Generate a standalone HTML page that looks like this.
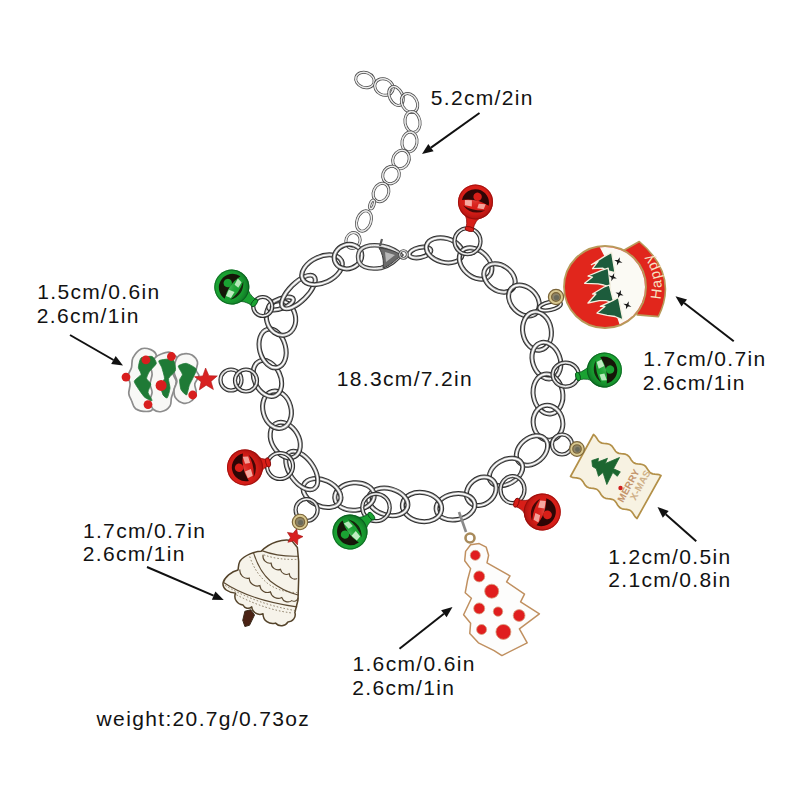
<!DOCTYPE html>
<html><head><meta charset="utf-8"><style>
html,body{margin:0;padding:0;background:#fff;width:800px;height:800px;overflow:hidden}
svg{display:block}
</style></head><body>
<svg width="800" height="800" viewBox="0 0 800 800">
<rect width="800" height="800" fill="#fff"/>
<g transform="translate(365,80) rotate(20)"><ellipse rx="9.5" ry="7.5" fill="none" stroke="#4a4a4a" stroke-width="3.0"/><ellipse rx="9.5" ry="7.5" fill="none" stroke="#c4c4c4" stroke-width="1.6"/><ellipse rx="9.5" ry="7.5" fill="none" stroke="#ffffff" stroke-width="0.7"/></g>
<g transform="translate(384,87) rotate(25)"><ellipse rx="9.5" ry="8" fill="none" stroke="#4a4a4a" stroke-width="3.0"/><ellipse rx="9.5" ry="8" fill="none" stroke="#c4c4c4" stroke-width="1.6"/><ellipse rx="9.5" ry="8" fill="none" stroke="#ffffff" stroke-width="0.7"/></g>
<g transform="translate(396,96) rotate(65)"><ellipse rx="10" ry="6.5" fill="none" stroke="#4a4a4a" stroke-width="3.0"/><ellipse rx="10" ry="6.5" fill="none" stroke="#c4c4c4" stroke-width="1.6"/><ellipse rx="10" ry="6.5" fill="none" stroke="#ffffff" stroke-width="0.7"/></g>
<g transform="translate(409.5,103) rotate(60)"><ellipse rx="10" ry="7.5" fill="none" stroke="#4a4a4a" stroke-width="3.0"/><ellipse rx="10" ry="7.5" fill="none" stroke="#c4c4c4" stroke-width="1.6"/><ellipse rx="10" ry="7.5" fill="none" stroke="#ffffff" stroke-width="0.7"/></g>
<g transform="translate(412.5,122) rotate(80)"><ellipse rx="10.5" ry="7.5" fill="none" stroke="#4a4a4a" stroke-width="3.0"/><ellipse rx="10.5" ry="7.5" fill="none" stroke="#c4c4c4" stroke-width="1.6"/><ellipse rx="10.5" ry="7.5" fill="none" stroke="#ffffff" stroke-width="0.7"/></g>
<g transform="translate(409.5,142) rotate(100)"><ellipse rx="10" ry="7.5" fill="none" stroke="#4a4a4a" stroke-width="3.0"/><ellipse rx="10" ry="7.5" fill="none" stroke="#c4c4c4" stroke-width="1.6"/><ellipse rx="10" ry="7.5" fill="none" stroke="#ffffff" stroke-width="0.7"/></g>
<g transform="translate(401,159.5) rotate(115)"><ellipse rx="9.5" ry="8" fill="none" stroke="#4a4a4a" stroke-width="3.0"/><ellipse rx="9.5" ry="8" fill="none" stroke="#c4c4c4" stroke-width="1.6"/><ellipse rx="9.5" ry="8" fill="none" stroke="#ffffff" stroke-width="0.7"/></g>
<g transform="translate(391,175) rotate(125)"><ellipse rx="9" ry="8" fill="none" stroke="#4a4a4a" stroke-width="3.0"/><ellipse rx="9" ry="8" fill="none" stroke="#c4c4c4" stroke-width="1.6"/><ellipse rx="9" ry="8" fill="none" stroke="#ffffff" stroke-width="0.7"/></g>
<g transform="translate(381,192.5) rotate(115)"><ellipse rx="9.5" ry="7.5" fill="none" stroke="#4a4a4a" stroke-width="3.0"/><ellipse rx="9.5" ry="7.5" fill="none" stroke="#c4c4c4" stroke-width="1.6"/><ellipse rx="9.5" ry="7.5" fill="none" stroke="#ffffff" stroke-width="0.7"/></g>
<g transform="translate(372,204.5) rotate(110)"><ellipse rx="4.5" ry="2" fill="none" stroke="#4a4a4a" stroke-width="3.0"/><ellipse rx="4.5" ry="2" fill="none" stroke="#c4c4c4" stroke-width="1.6"/><ellipse rx="4.5" ry="2" fill="none" stroke="#ffffff" stroke-width="0.7"/></g>
<g transform="translate(364,221) rotate(110)"><ellipse rx="10.5" ry="7" fill="none" stroke="#4a4a4a" stroke-width="3.0"/><ellipse rx="10.5" ry="7" fill="none" stroke="#c4c4c4" stroke-width="1.6"/><ellipse rx="10.5" ry="7" fill="none" stroke="#ffffff" stroke-width="0.7"/></g>
<g transform="translate(353,240.5) rotate(110)"><ellipse rx="8" ry="7" fill="none" stroke="#4a4a4a" stroke-width="3.0"/><ellipse rx="8" ry="7" fill="none" stroke="#c4c4c4" stroke-width="1.6"/><ellipse rx="8" ry="7" fill="none" stroke="#ffffff" stroke-width="0.7"/></g>
<g transform="translate(420,252.5) rotate(-12)"><ellipse rx="11" ry="5" fill="none" stroke="#2c2c2c" stroke-width="5.0"/><ellipse rx="11" ry="5" fill="none" stroke="#a4a4a4" stroke-width="3.0"/><ellipse rx="11" ry="5" fill="none" stroke="#ffffff" stroke-width="1.4"/></g>
<g transform="translate(444.4,250.3) rotate(15)"><ellipse rx="18.5" ry="12" fill="none" stroke="#2c2c2c" stroke-width="5.0"/><ellipse rx="18.5" ry="12" fill="none" stroke="#a4a4a4" stroke-width="3.0"/><ellipse rx="18.5" ry="12" fill="none" stroke="#ffffff" stroke-width="1.4"/></g>
<g transform="translate(475.6,263.5) rotate(42)"><ellipse rx="18.5" ry="13" fill="none" stroke="#2c2c2c" stroke-width="5.0"/><ellipse rx="18.5" ry="13" fill="none" stroke="#a4a4a4" stroke-width="3.0"/><ellipse rx="18.5" ry="13" fill="none" stroke="#ffffff" stroke-width="1.4"/></g>
<g transform="translate(499.5,278) rotate(35)"><ellipse rx="17" ry="12.5" fill="none" stroke="#2c2c2c" stroke-width="5.0"/><ellipse rx="17" ry="12.5" fill="none" stroke="#a4a4a4" stroke-width="3.0"/><ellipse rx="17" ry="12.5" fill="none" stroke="#ffffff" stroke-width="1.4"/></g>
<g transform="translate(524,300.5) rotate(45)"><ellipse rx="17.5" ry="13" fill="none" stroke="#2c2c2c" stroke-width="5.0"/><ellipse rx="17.5" ry="13" fill="none" stroke="#a4a4a4" stroke-width="3.0"/><ellipse rx="17.5" ry="13" fill="none" stroke="#ffffff" stroke-width="1.4"/></g>
<g transform="translate(537,331) rotate(80)"><ellipse rx="19.25" ry="14.25" fill="none" stroke="#2c2c2c" stroke-width="5.0"/><ellipse rx="19.25" ry="14.25" fill="none" stroke="#a4a4a4" stroke-width="3.0"/><ellipse rx="19.25" ry="14.25" fill="none" stroke="#ffffff" stroke-width="1.4"/></g>
<g transform="translate(546.4,360.6) rotate(70)"><ellipse rx="18.75" ry="13.75" fill="none" stroke="#2c2c2c" stroke-width="5.0"/><ellipse rx="18.75" ry="13.75" fill="none" stroke="#a4a4a4" stroke-width="3.0"/><ellipse rx="18.75" ry="13.75" fill="none" stroke="#ffffff" stroke-width="1.4"/></g>
<g transform="translate(548,394) rotate(80)"><ellipse rx="20" ry="14.75" fill="none" stroke="#2c2c2c" stroke-width="5.0"/><ellipse rx="20" ry="14.75" fill="none" stroke="#a4a4a4" stroke-width="3.0"/><ellipse rx="20" ry="14.75" fill="none" stroke="#ffffff" stroke-width="1.4"/></g>
<g transform="translate(548,422.75) rotate(80)"><ellipse rx="17.5" ry="14.75" fill="none" stroke="#2c2c2c" stroke-width="5.0"/><ellipse rx="17.5" ry="14.75" fill="none" stroke="#a4a4a4" stroke-width="3.0"/><ellipse rx="17.5" ry="14.75" fill="none" stroke="#ffffff" stroke-width="1.4"/></g>
<g transform="translate(532,450.5) rotate(-40)"><ellipse rx="17.5" ry="12.5" fill="none" stroke="#2c2c2c" stroke-width="5.0"/><ellipse rx="17.5" ry="12.5" fill="none" stroke="#a4a4a4" stroke-width="3.0"/><ellipse rx="17.5" ry="12.5" fill="none" stroke="#ffffff" stroke-width="1.4"/></g>
<g transform="translate(506,472) rotate(-30)"><ellipse rx="18" ry="12" fill="none" stroke="#2c2c2c" stroke-width="5.0"/><ellipse rx="18" ry="12" fill="none" stroke="#a4a4a4" stroke-width="3.0"/><ellipse rx="18" ry="12" fill="none" stroke="#ffffff" stroke-width="1.4"/></g>
<g transform="translate(481.25,491.25) rotate(-40)"><ellipse rx="16" ry="13" fill="none" stroke="#2c2c2c" stroke-width="5.0"/><ellipse rx="16" ry="13" fill="none" stroke="#a4a4a4" stroke-width="3.0"/><ellipse rx="16" ry="13" fill="none" stroke="#ffffff" stroke-width="1.4"/></g>
<g transform="translate(455.5,506.75) rotate(-10)"><ellipse rx="19.5" ry="13" fill="none" stroke="#2c2c2c" stroke-width="5.0"/><ellipse rx="19.5" ry="13" fill="none" stroke="#a4a4a4" stroke-width="3.0"/><ellipse rx="19.5" ry="13" fill="none" stroke="#ffffff" stroke-width="1.4"/></g>
<g transform="translate(422,507) rotate(10)"><ellipse rx="19.75" ry="14.5" fill="none" stroke="#2c2c2c" stroke-width="5.0"/><ellipse rx="19.75" ry="14.5" fill="none" stroke="#a4a4a4" stroke-width="3.0"/><ellipse rx="19.75" ry="14.5" fill="none" stroke="#ffffff" stroke-width="1.4"/></g>
<g transform="translate(388.25,501.85) rotate(15)"><ellipse rx="20" ry="13.25" fill="none" stroke="#2c2c2c" stroke-width="5.0"/><ellipse rx="20" ry="13.25" fill="none" stroke="#a4a4a4" stroke-width="3.0"/><ellipse rx="20" ry="13.25" fill="none" stroke="#ffffff" stroke-width="1.4"/></g>
<g transform="translate(354.5,496.5) rotate(-5)"><ellipse rx="19.75" ry="13.75" fill="none" stroke="#2c2c2c" stroke-width="5.0"/><ellipse rx="19.75" ry="13.75" fill="none" stroke="#a4a4a4" stroke-width="3.0"/><ellipse rx="19.75" ry="13.75" fill="none" stroke="#ffffff" stroke-width="1.4"/></g>
<g transform="translate(322,493) rotate(25)"><ellipse rx="20" ry="13" fill="none" stroke="#2c2c2c" stroke-width="5.0"/><ellipse rx="20" ry="13" fill="none" stroke="#a4a4a4" stroke-width="3.0"/><ellipse rx="20" ry="13" fill="none" stroke="#ffffff" stroke-width="1.4"/></g>
<g transform="translate(301.75,470.5) rotate(55)"><ellipse rx="22" ry="12" fill="none" stroke="#2c2c2c" stroke-width="5.0"/><ellipse rx="22" ry="12" fill="none" stroke="#a4a4a4" stroke-width="3.0"/><ellipse rx="22" ry="12" fill="none" stroke="#ffffff" stroke-width="1.4"/></g>
<g transform="translate(285.25,440.1) rotate(60)"><ellipse rx="19" ry="13.5" fill="none" stroke="#2c2c2c" stroke-width="5.0"/><ellipse rx="19" ry="13.5" fill="none" stroke="#a4a4a4" stroke-width="3.0"/><ellipse rx="19" ry="13.5" fill="none" stroke="#ffffff" stroke-width="1.4"/></g>
<g transform="translate(277,409.7) rotate(75)"><ellipse rx="19" ry="14" fill="none" stroke="#2c2c2c" stroke-width="5.0"/><ellipse rx="19" ry="14" fill="none" stroke="#a4a4a4" stroke-width="3.0"/><ellipse rx="19" ry="14" fill="none" stroke="#ffffff" stroke-width="1.4"/></g>
<g transform="translate(267.4,378.4) rotate(65)"><ellipse rx="19" ry="13" fill="none" stroke="#2c2c2c" stroke-width="5.0"/><ellipse rx="19" ry="13" fill="none" stroke="#a4a4a4" stroke-width="3.0"/><ellipse rx="19" ry="13" fill="none" stroke="#ffffff" stroke-width="1.4"/></g>
<g transform="translate(272.6,348.4) rotate(75)"><ellipse rx="19.75" ry="13" fill="none" stroke="#2c2c2c" stroke-width="5.0"/><ellipse rx="19.75" ry="13" fill="none" stroke="#a4a4a4" stroke-width="3.0"/><ellipse rx="19.75" ry="13" fill="none" stroke="#ffffff" stroke-width="1.4"/></g>
<g transform="translate(281,318) rotate(75)"><ellipse rx="17.5" ry="14.5" fill="none" stroke="#2c2c2c" stroke-width="5.0"/><ellipse rx="17.5" ry="14.5" fill="none" stroke="#a4a4a4" stroke-width="3.0"/><ellipse rx="17.5" ry="14.5" fill="none" stroke="#ffffff" stroke-width="1.4"/></g>
<g transform="translate(281,303.5) rotate(-20)"><ellipse rx="13" ry="5" fill="none" stroke="#2c2c2c" stroke-width="5.0"/><ellipse rx="13" ry="5" fill="none" stroke="#a4a4a4" stroke-width="3.0"/><ellipse rx="13" ry="5" fill="none" stroke="#ffffff" stroke-width="1.4"/></g>
<g transform="translate(298.4,292) rotate(-45)"><ellipse rx="22" ry="9" fill="none" stroke="#2c2c2c" stroke-width="5.0"/><ellipse rx="22" ry="9" fill="none" stroke="#a4a4a4" stroke-width="3.0"/><ellipse rx="22" ry="9" fill="none" stroke="#ffffff" stroke-width="1.4"/></g>
<g transform="translate(322,269.75) rotate(-25)"><ellipse rx="21.5" ry="13" fill="none" stroke="#2c2c2c" stroke-width="5.0"/><ellipse rx="21.5" ry="13" fill="none" stroke="#a4a4a4" stroke-width="3.0"/><ellipse rx="21.5" ry="13" fill="none" stroke="#ffffff" stroke-width="1.4"/></g>
<g transform="translate(348,256.6) rotate(-20)"><ellipse rx="14" ry="12" fill="none" stroke="#2c2c2c" stroke-width="5.0"/><ellipse rx="14" ry="12" fill="none" stroke="#a4a4a4" stroke-width="3.0"/><ellipse rx="14" ry="12" fill="none" stroke="#ffffff" stroke-width="1.4"/></g>
<g transform="translate(467.5,241.25) rotate(0)"><ellipse rx="13" ry="13" fill="none" stroke="#2c2c2c" stroke-width="4.2"/><ellipse rx="13" ry="13" fill="none" stroke="#a4a4a4" stroke-width="2.2"/><ellipse rx="13" ry="13" fill="none" stroke="#ffffff" stroke-width="1.0"/></g>
<g transform="translate(550,306) rotate(-12)"><ellipse rx="11" ry="4" fill="none" stroke="#2c2c2c" stroke-width="4.2"/><ellipse rx="11" ry="4" fill="none" stroke="#a4a4a4" stroke-width="2.2"/><ellipse rx="11" ry="4" fill="none" stroke="#ffffff" stroke-width="1.0"/></g>
<g transform="translate(565.6,374.6) rotate(0)"><ellipse rx="13" ry="12" fill="none" stroke="#2c2c2c" stroke-width="4.2"/><ellipse rx="13" ry="12" fill="none" stroke="#a4a4a4" stroke-width="2.2"/><ellipse rx="13" ry="12" fill="none" stroke="#ffffff" stroke-width="1.0"/></g>
<g transform="translate(562,444.5) rotate(0)"><ellipse rx="10" ry="10" fill="none" stroke="#2c2c2c" stroke-width="4.2"/><ellipse rx="10" ry="10" fill="none" stroke="#a4a4a4" stroke-width="2.2"/><ellipse rx="10" ry="10" fill="none" stroke="#ffffff" stroke-width="1.0"/></g>
<g transform="translate(512.5,489.6) rotate(0)"><ellipse rx="12" ry="13.5" fill="none" stroke="#2c2c2c" stroke-width="4.2"/><ellipse rx="12" ry="13.5" fill="none" stroke="#a4a4a4" stroke-width="2.2"/><ellipse rx="12" ry="13.5" fill="none" stroke="#ffffff" stroke-width="1.0"/></g>
<g transform="translate(376,507.5) rotate(0)"><ellipse rx="13.7" ry="13.7" fill="none" stroke="#2c2c2c" stroke-width="4.2"/><ellipse rx="13.7" ry="13.7" fill="none" stroke="#a4a4a4" stroke-width="2.2"/><ellipse rx="13.7" ry="13.7" fill="none" stroke="#ffffff" stroke-width="1.0"/></g>
<g transform="translate(306.6,510) rotate(0)"><ellipse rx="11" ry="11" fill="none" stroke="#2c2c2c" stroke-width="4.2"/><ellipse rx="11" ry="11" fill="none" stroke="#a4a4a4" stroke-width="2.2"/><ellipse rx="11" ry="11" fill="none" stroke="#ffffff" stroke-width="1.0"/></g>
<g transform="translate(280,466) rotate(0)"><ellipse rx="13" ry="13" fill="none" stroke="#2c2c2c" stroke-width="4.2"/><ellipse rx="13" ry="13" fill="none" stroke="#a4a4a4" stroke-width="2.2"/><ellipse rx="13" ry="13" fill="none" stroke="#ffffff" stroke-width="1.0"/></g>
<g transform="translate(231,380) rotate(0)"><ellipse rx="10.5" ry="10.5" fill="none" stroke="#2c2c2c" stroke-width="4.2"/><ellipse rx="10.5" ry="10.5" fill="none" stroke="#a4a4a4" stroke-width="2.2"/><ellipse rx="10.5" ry="10.5" fill="none" stroke="#ffffff" stroke-width="1.0"/></g>
<g transform="translate(246,380.5) rotate(0)"><ellipse rx="11" ry="11" fill="none" stroke="#2c2c2c" stroke-width="4.2"/><ellipse rx="11" ry="11" fill="none" stroke="#a4a4a4" stroke-width="2.2"/><ellipse rx="11" ry="11" fill="none" stroke="#ffffff" stroke-width="1.0"/></g>
<g transform="translate(262.75,306.5) rotate(0)"><ellipse rx="9.5" ry="9.5" fill="none" stroke="#2c2c2c" stroke-width="4.2"/><ellipse rx="9.5" ry="9.5" fill="none" stroke="#a4a4a4" stroke-width="2.2"/><ellipse rx="9.5" ry="9.5" fill="none" stroke="#ffffff" stroke-width="1.0"/></g>
<path d="M358,257 C358,246 370,244 383,246 C392,248 398,252 401,255 C396,260 390,266 381,268 C368,270 358,267 358,257 Z" fill="none" stroke="#3c3c3c" stroke-width="4.4"/>
<path d="M358,257 C358,246 370,244 383,246 C392,248 398,252 401,255 C396,260 390,266 381,268 C368,270 358,267 358,257 Z" fill="none" stroke="#bdbdbd" stroke-width="2.4"/>
<path d="M358,257 C358,246 370,244 383,246 C392,248 398,252 401,255 C396,260 390,266 381,268 C368,270 358,267 358,257 Z" fill="none" stroke="#f8f8f8" stroke-width="1"/>
<path d="M379,248 C390,249 397,252 401,255 C395,261 389,266 383,268 C384,262 383,254 379,248 Z" fill="#6a6a6a" stroke="#3c3c3c" stroke-width="1"/>
<path d="M385,252 L395,255 L386,262 Z" fill="#d8d8d8" opacity="0.7"/>
<path d="M380,246 L382,239" stroke="#5a5a5a" stroke-width="2.2"/>
<circle cx="403.5" cy="254.5" r="3.8" fill="none" stroke="#4a4a4a" stroke-width="2.8"/>
<circle cx="403.5" cy="254.5" r="3.8" fill="none" stroke="#dcdcdc" stroke-width="1.2"/>
<defs><radialGradient id="bg1" cx="45%" cy="40%" r="60%"><stop offset="0" stop-color="#f8b8b0" stop-opacity="0.35"/><stop offset="0.5" stop-color="#d81e18" stop-opacity="0"/><stop offset="1" stop-color="#8a0a08" stop-opacity="0.6"/></radialGradient></defs><g transform="translate(475.5,202) rotate(12.6)"><path d="M-9.6,12.2 Q-3.5,17.5 -3.5,27.7 L3.5,27.7 Q3.5,17.5 9.6,12.2 Z" fill="#d81e18" stroke="#8a0a08" stroke-width="0.7"/><ellipse cx="0" cy="27.7" rx="4.5" ry="2.3" fill="#d81e18" stroke="#8a0a08" stroke-width="0.9"/><circle r="17.5" fill="#d81e18"/><circle r="17.5" fill="url(#bg1)"/><circle r="17.0" fill="none" stroke="#8a0a08" stroke-width="1" opacity="0.6"/><path d="M-13.7,0.9 A13.7,13.7 0 0 1 13.7,0.9 Q0,-4.4 -13.7,0.9 Z" fill="#140202" opacity="0.88"/><path d="M-11.4,6.1 Q0,14.9 11.4,6.1 Q0,9.6 -11.4,6.1 Z" fill="#140202" opacity="0.75"/><circle cx="0.9" cy="-5.6" r="4.2" fill="#d81e18"/><path d="M-10.8,0.4 L-3.9,-0.9 L-2.6,5.2 L-9.6,5.6 Z" fill="#f8b8b0" opacity="0.9"/><path d="M3.5,0.9 L10.5,0.0 L9.6,5.2 L3.1,5.8 Z" fill="#f8b8b0" opacity="0.85"/></g>
<defs><radialGradient id="bg2" cx="45%" cy="40%" r="60%"><stop offset="0" stop-color="#d0f4d0" stop-opacity="0.35"/><stop offset="0.5" stop-color="#1aa232" stop-opacity="0"/><stop offset="1" stop-color="#07501a" stop-opacity="0.6"/></radialGradient></defs><g transform="translate(231.8,287) rotate(-54.9)"><path d="M-9.6,12.2 Q-3.5,17.5 -3.5,27.6 L3.5,27.6 Q3.5,17.5 9.6,12.2 Z" fill="#1aa232" stroke="#07501a" stroke-width="0.7"/><ellipse cx="0" cy="27.6" rx="4.5" ry="2.3" fill="#1aa232" stroke="#07501a" stroke-width="0.9"/><circle r="17.5" fill="#1aa232"/><circle r="17.5" fill="url(#bg2)"/><circle r="17.0" fill="none" stroke="#07501a" stroke-width="1" opacity="0.6"/><path d="M-13.7,0.9 A13.7,13.7 0 0 1 13.7,0.9 Q0,-4.4 -13.7,0.9 Z" fill="#140202" opacity="0.88"/><path d="M-11.4,6.1 Q0,14.9 11.4,6.1 Q0,9.6 -11.4,6.1 Z" fill="#140202" opacity="0.75"/><circle cx="0.9" cy="-5.6" r="4.2" fill="#1aa232"/><path d="M-10.8,0.4 L-3.9,-0.9 L-2.6,5.2 L-9.6,5.6 Z" fill="#d0f4d0" opacity="0.9"/><path d="M3.5,0.9 L10.5,0.0 L9.6,5.2 L3.1,5.8 Z" fill="#d0f4d0" opacity="0.85"/></g>
<defs><radialGradient id="bg3" cx="45%" cy="40%" r="60%"><stop offset="0" stop-color="#d0f4d0" stop-opacity="0.35"/><stop offset="0.5" stop-color="#1aa232" stop-opacity="0"/><stop offset="1" stop-color="#07501a" stop-opacity="0.6"/></radialGradient></defs><g transform="translate(604.4,370) rotate(76.2)"><path d="M-9.6,12.2 Q-3.5,17.5 -3.5,27.2 L3.5,27.2 Q3.5,17.5 9.6,12.2 Z" fill="#1aa232" stroke="#07501a" stroke-width="0.7"/><ellipse cx="0" cy="27.2" rx="4.5" ry="2.3" fill="#1aa232" stroke="#07501a" stroke-width="0.9"/><circle r="17.5" fill="#1aa232"/><circle r="17.5" fill="url(#bg3)"/><circle r="17.0" fill="none" stroke="#07501a" stroke-width="1" opacity="0.6"/><path d="M-13.7,0.9 A13.7,13.7 0 0 1 13.7,0.9 Q0,-4.4 -13.7,0.9 Z" fill="#140202" opacity="0.88"/><path d="M-11.4,6.1 Q0,14.9 11.4,6.1 Q0,9.6 -11.4,6.1 Z" fill="#140202" opacity="0.75"/><circle cx="0.9" cy="-5.6" r="4.2" fill="#1aa232"/><path d="M-10.8,0.4 L-3.9,-0.9 L-2.6,5.2 L-9.6,5.6 Z" fill="#d0f4d0" opacity="0.9"/><path d="M3.5,0.9 L10.5,0.0 L9.6,5.2 L3.1,5.8 Z" fill="#d0f4d0" opacity="0.85"/></g>
<defs><radialGradient id="bg4" cx="45%" cy="40%" r="60%"><stop offset="0" stop-color="#f8b8b0" stop-opacity="0.35"/><stop offset="0.5" stop-color="#d81e18" stop-opacity="0"/><stop offset="1" stop-color="#8a0a08" stop-opacity="0.6"/></radialGradient></defs><g transform="translate(245,467.4) rotate(-102.2)"><path d="M-9.9,12.6 Q-3.6,18.0 -3.6,23.6 L3.6,23.6 Q3.6,18.0 9.9,12.6 Z" fill="#d81e18" stroke="#8a0a08" stroke-width="0.7"/><ellipse cx="0" cy="23.6" rx="4.7" ry="2.3" fill="#d81e18" stroke="#8a0a08" stroke-width="0.9"/><circle r="18" fill="#d81e18"/><circle r="18" fill="url(#bg4)"/><circle r="17.5" fill="none" stroke="#8a0a08" stroke-width="1" opacity="0.6"/><path d="M-14.0,0.9 A14.0,14.0 0 0 1 14.0,0.9 Q0,-4.5 -14.0,0.9 Z" fill="#140202" opacity="0.88"/><path d="M-11.7,6.3 Q0,15.3 11.7,6.3 Q0,9.9 -11.7,6.3 Z" fill="#140202" opacity="0.75"/><circle cx="0.9" cy="-5.8" r="4.3" fill="#d81e18"/><path d="M-11.2,0.4 L-4.0,-0.9 L-2.7,5.4 L-9.9,5.8 Z" fill="#f8b8b0" opacity="0.9"/><path d="M3.6,0.9 L10.8,0.0 L9.9,5.4 L3.2,5.9 Z" fill="#f8b8b0" opacity="0.85"/></g>
<defs><radialGradient id="bg5" cx="45%" cy="40%" r="60%"><stop offset="0" stop-color="#d0f4d0" stop-opacity="0.35"/><stop offset="0.5" stop-color="#1aa232" stop-opacity="0"/><stop offset="1" stop-color="#07501a" stop-opacity="0.6"/></radialGradient></defs><g transform="translate(350,532) rotate(-126.5)"><path d="M-9.6,12.2 Q-3.5,17.5 -3.5,26.6 L3.5,26.6 Q3.5,17.5 9.6,12.2 Z" fill="#1aa232" stroke="#07501a" stroke-width="0.7"/><ellipse cx="0" cy="26.6" rx="4.5" ry="2.3" fill="#1aa232" stroke="#07501a" stroke-width="0.9"/><circle r="17.5" fill="#1aa232"/><circle r="17.5" fill="url(#bg5)"/><circle r="17.0" fill="none" stroke="#07501a" stroke-width="1" opacity="0.6"/><path d="M-13.7,0.9 A13.7,13.7 0 0 1 13.7,0.9 Q0,-4.4 -13.7,0.9 Z" fill="#140202" opacity="0.88"/><path d="M-11.4,6.1 Q0,14.9 11.4,6.1 Q0,9.6 -11.4,6.1 Z" fill="#140202" opacity="0.75"/><circle cx="0.9" cy="-5.6" r="4.2" fill="#1aa232"/><path d="M-10.8,0.4 L-3.9,-0.9 L-2.6,5.2 L-9.6,5.6 Z" fill="#d0f4d0" opacity="0.9"/><path d="M3.5,0.9 L10.5,0.0 L9.6,5.2 L3.1,5.8 Z" fill="#d0f4d0" opacity="0.85"/></g>
<defs><radialGradient id="bg6" cx="45%" cy="40%" r="60%"><stop offset="0" stop-color="#f8b8b0" stop-opacity="0.35"/><stop offset="0.5" stop-color="#d81e18" stop-opacity="0"/><stop offset="1" stop-color="#8a0a08" stop-opacity="0.6"/></radialGradient></defs><g transform="translate(542.25,512) rotate(-250.2)"><path d="M-10.2,12.9 Q-3.7,18.5 -3.7,27.5 L3.7,27.5 Q3.7,18.5 10.2,12.9 Z" fill="#d81e18" stroke="#8a0a08" stroke-width="0.7"/><ellipse cx="0" cy="27.5" rx="4.8" ry="2.4" fill="#d81e18" stroke="#8a0a08" stroke-width="0.9"/><circle r="18.5" fill="#d81e18"/><circle r="18.5" fill="url(#bg6)"/><circle r="18.0" fill="none" stroke="#8a0a08" stroke-width="1" opacity="0.6"/><path d="M-14.4,0.9 A14.4,14.4 0 0 1 14.4,0.9 Q0,-4.6 -14.4,0.9 Z" fill="#140202" opacity="0.88"/><path d="M-12.0,6.5 Q0,15.7 12.0,6.5 Q0,10.2 -12.0,6.5 Z" fill="#140202" opacity="0.75"/><circle cx="0.9" cy="-5.9" r="4.4" fill="#d81e18"/><path d="M-11.5,0.4 L-4.1,-0.9 L-2.8,5.5 L-10.2,5.9 Z" fill="#f8b8b0" opacity="0.9"/><path d="M3.7,0.9 L11.1,0.0 L10.2,5.5 L3.3,6.1 Z" fill="#f8b8b0" opacity="0.85"/></g>
<path d="M622.5,251.0 L639.3,241.5 Q679.0,275.0 658.4,316.6 L637.1,314.9 Z" fill="#e1261c" stroke="#b89a5a" stroke-width="1.6" stroke-linejoin="round"/>
<defs><clipPath id="hc"><circle cx="605" cy="287" r="40"/></clipPath></defs>
<circle cx="605" cy="287" r="41" fill="#e1261c" stroke="#b89a5a" stroke-width="1.8"/>
<polygon points="599.5,246.7 607.1,261.4 603.7,273.7 606.0,288.4 609.4,303.0 617.2,317.6 620.6,327.7 660.0,327.7 660.0,240.0 599.5,240.0" fill="#fbfaf4" clip-path="url(#hc)"/>
<polygon points="611.6,252.4 615.0,272.6 606.0,270.4 602.6,268.1 592.5,268.7 598.1,261.4 591.4,264.7 603.7,256.9" fill="#1d5c3c" stroke="#f5f0e0" stroke-width="1.3" stroke-linejoin="round"/>
<polygon points="608.2,268.1 610.5,287.2 603.7,285.0 598.1,283.9 584.6,283.3 592.5,277.1 588.0,276.0 601.5,270.4" fill="#1d5c3c" stroke="#f5f0e0" stroke-width="1.3" stroke-linejoin="round"/>
<polygon points="609.4,285.0 613.9,303.0 606.0,300.7 599.2,300.7 588.0,303.0 595.9,294.0 592.5,294.0 603.7,287.2" fill="#1d5c3c" stroke="#f5f0e0" stroke-width="1.3" stroke-linejoin="round"/>
<polygon points="618.4,297.4 622.9,319.9 615.0,316.5 607.1,315.4 597.0,313.1 604.9,306.4 600.4,306.4 612.7,300.7" fill="#1d5c3c" stroke="#f5f0e0" stroke-width="1.3" stroke-linejoin="round"/>
<polygon points="622.4,262.8 619.0,262.6 616.9,265.4 617.1,262.0 614.3,259.9 617.8,260.1 619.8,257.3 619.6,260.8" fill="#1a1a1a"/>
<polygon points="616.8,278.6 613.3,278.4 611.3,281.2 611.5,277.7 608.7,275.6 612.2,275.9 614.2,273.1 614.0,276.5" fill="#1a1a1a"/>
<polygon points="623.5,295.5 620.1,295.3 618.0,298.0 618.2,294.6 615.5,292.5 618.9,292.7 621.0,290.0 620.8,293.4" fill="#1a1a1a"/>
<polygon points="631.4,306.7 628.0,306.5 625.9,309.3 626.1,305.8 623.3,303.8 626.8,304.0 628.8,301.2 628.6,304.7" fill="#1a1a1a"/>
<defs><path id="hp" d="M660.1,299.7 A56.5,56.5 0 0 0 619.6,232.4"/></defs>
<text font-family="Liberation Sans" font-size="14.5" fill="#f6e2c4" letter-spacing="1.6"><textPath href="#hp">Happy</textPath></text>
<circle cx="556" cy="297" r="6" fill="#8c8468" stroke="#7a6438" stroke-width="4.4"/>
<circle cx="556" cy="297" r="6" fill="none" stroke="#d8c890" stroke-width="2"/>
<circle cx="556.5" cy="297.5" r="2.6" fill="#6a6a5a"/>
<path d="M132.9,357.9 C134.5,354.8 138.2,350.3 141.1,348.9 C144.1,347.6 148.2,348.6 150.8,349.6 C153.3,350.7 155.7,352.7 156.3,355.1 C156.8,357.5 154.1,361.1 154.2,364.1 C154.3,367.1 156.8,370.1 157.0,373.0 C157.1,375.9 155.7,379.2 154.9,381.3 C154.1,383.3 152.1,383.3 152.1,385.4 C152.1,387.5 154.9,391.1 154.9,393.6 C154.9,396.2 152.5,398.0 152.1,400.5 C151.8,403.0 153.7,406.9 152.8,408.8 C151.9,410.6 149.5,411.5 146.6,411.5 C143.8,411.5 138.2,410.6 135.6,408.8 C133.1,406.9 132.7,403.0 131.5,400.5 C130.4,398.0 129.0,396.4 128.8,393.6 C128.5,390.9 130.2,387.0 130.1,384.0 C130.0,381.0 127.8,378.5 128.1,375.8 C128.3,373.0 130.7,370.5 131.5,367.5 C132.3,364.5 131.3,361.0 132.9,357.9 Z" fill="#f8f8f6" stroke="#8c8c8c" stroke-width="1.7" stroke-linejoin="round"/>
<path d="M154.9,357.9 C156.7,355.8 159.2,354.7 161.8,353.8 C164.3,352.8 167.5,351.7 170.0,352.4 C172.5,353.1 176.0,355.6 176.9,357.9 C177.8,360.2 176.2,363.6 175.5,366.1 C174.8,368.7 172.7,370.5 172.8,373.0 C172.9,375.5 176.0,378.5 176.2,381.3 C176.4,384.0 174.9,386.8 174.1,389.5 C173.3,392.3 172.1,395.0 171.4,397.8 C170.7,400.5 171.6,403.7 170.0,406.0 C168.4,408.3 164.5,411.0 161.8,411.5 C159.0,412.1 155.5,411.3 153.5,409.5 C151.6,407.6 150.3,403.4 150.1,400.5 C149.8,397.7 152.1,395.0 152.1,392.3 C152.1,389.5 150.1,387.0 150.1,384.0 C150.1,381.0 152.0,377.4 152.1,374.4 C152.3,371.4 150.3,368.9 150.8,366.1 C151.2,363.4 153.1,359.9 154.9,357.9 Z" fill="#f8f8f6" stroke="#8c8c8c" stroke-width="1.7" stroke-linejoin="round"/>
<path d="M176.9,357.9 C178.5,354.9 181.3,354.2 183.8,353.8 C186.3,353.3 189.7,353.8 192.0,355.1 C194.3,356.5 196.8,359.5 197.5,362.0 C198.2,364.5 195.9,368.0 196.2,370.3 C196.4,372.6 199.1,373.5 198.9,375.8 C198.7,378.1 195.2,381.3 194.8,384.0 C194.3,386.8 196.6,389.5 196.2,392.3 C195.7,395.0 194.1,398.7 192.0,400.5 C190.0,402.4 186.5,403.7 183.8,403.3 C181.0,402.8 177.1,400.1 175.5,397.8 C173.9,395.5 173.9,392.3 174.1,389.5 C174.4,386.8 176.9,384.2 176.9,381.3 C176.9,378.3 174.1,375.5 174.1,371.6 C174.1,367.7 175.3,360.9 176.9,357.9 Z" fill="#f8f8f6" stroke="#8c8c8c" stroke-width="1.7" stroke-linejoin="round"/>
<path d="M141.1,357.9 C142.5,356.8 150.6,356.0 152.1,356.5 C153.7,357.1 156.5,361.9 156.3,363.4 C156.0,364.9 150.4,370.1 149.4,371.6 C148.4,373.1 146.5,377.3 146.6,378.5 C146.8,379.8 150.6,382.6 150.8,384.0 C150.9,385.4 147.9,390.6 148.0,392.3 C148.1,393.9 152.4,400.0 152.1,400.5 C151.9,401.1 146.5,398.7 145.3,397.8 C144.0,396.8 140.9,392.5 139.8,390.9 C138.7,389.2 134.1,382.9 134.3,381.3 C134.4,379.6 140.7,375.8 141.1,374.4 C141.5,373.0 138.4,369.2 138.4,367.5 C138.4,365.9 139.8,359.0 141.1,357.9 Z" fill="#1f7a36" stroke="#1f7a36" stroke-width="0.8" stroke-linejoin="round"/>
<path d="M159.0,360.6 C160.1,359.8 171.1,358.3 172.8,359.3 C174.4,360.2 175.9,368.3 175.5,370.3 C175.1,372.2 169.2,376.7 168.6,378.5 C168.1,380.3 170.2,386.2 170.0,388.1 C169.9,390.1 168.0,397.1 167.3,397.8 C166.6,398.5 163.8,396.3 163.1,395.0 C162.5,393.8 160.3,387.0 160.4,385.4 C160.5,383.7 164.4,380.3 164.5,378.5 C164.7,376.7 162.3,369.3 161.8,367.5 C161.2,365.7 157.9,361.5 159.0,360.6 Z" fill="#1f7a36" stroke="#1f7a36" stroke-width="0.8" stroke-linejoin="round"/>
<path d="M178.3,366.1 C178.7,365.0 184.7,363.1 186.5,363.4 C188.3,363.7 195.5,367.5 196.2,368.9 C196.8,370.3 194.1,375.5 193.4,377.1 C192.7,378.8 190.0,383.6 189.3,385.4 C188.6,387.2 187.4,394.6 186.5,395.0 C185.7,395.4 181.7,391.0 181.0,389.5 C180.3,388.0 179.5,381.4 179.6,379.9 C179.8,378.4 182.5,375.8 182.4,374.4 C182.3,373.0 177.9,367.2 178.3,366.1 Z" fill="#1f7a36" stroke="#1f7a36" stroke-width="0.8" stroke-linejoin="round"/>
<polygon points="217.3,375.9 211.0,381.4 213.4,389.5 206.2,385.2 199.3,389.9 201.1,381.8 194.5,376.7 202.8,375.9 205.6,368.0 208.9,375.7" fill="#d82222" stroke="#b01818" stroke-width="0.6" stroke-linejoin="round"/>
<circle cx="126.0" cy="377.1" r="4.4" fill="#d81e1e"/>
<circle cx="145.9" cy="359.9" r="4.4" fill="#d81e1e"/>
<circle cx="148.0" cy="404.6" r="4.4" fill="#d81e1e"/>
<circle cx="171.4" cy="356.5" r="4.4" fill="#d81e1e"/>
<circle cx="161.1" cy="385.4" r="5.5" fill="#d81e1e"/>
<circle cx="192.7" cy="395.0" r="4.4" fill="#d81e1e"/>
<g transform="translate(218,530) scale(0.125)">
<path d="M590,85 C520,70 420,95 345,170 C300,170 210,200 175,250 C160,280 165,300 160,320 C110,330 50,380 40,425 C35,470 80,500 140,505 A69.7,69.7 0 0 0 200,600 A44.4,44.4 0 0 0 270,615 A65.4,65.4 0 0 0 360,670 A77.5,77.5 0 0 0 460,745 A62.3,62.3 0 0 0 560,735 A57.7,57.7 0 0 0 615,660 L640,560 L645,400 L645,250 L635,140 Z" fill="#f6f3ea" stroke="#54432a" stroke-width="12" stroke-linejoin="round"/>
<path d="M215,650 L262,638 L292,680 L252,762 L215,772 L198,722 Z" fill="#4a2214" stroke="#3a2a1a" stroke-width="8"/>
<path d="M350,165 Q480,215 640,210" fill="none" stroke="#5a4830" stroke-width="9" stroke-linecap="round"/>
<path d="M360,200 A57.0,57.0 0 0 0 425,265 A55.9,55.9 0 0 0 500,315 A48.5,48.5 0 0 0 570,350 A44.7,44.7 0 0 0 630,390" fill="none" stroke="#5a4830" stroke-width="9" stroke-linecap="round"/>
<path d="M285,185 Q330,330 420,410 Q520,490 640,520" fill="none" stroke="#5a4830" stroke-width="9" stroke-linecap="round"/>
<path d="M175,318 A62.4,62.4 0 0 0 250,385 A64.5,64.5 0 0 0 335,445 A61.1,61.1 0 0 0 420,495 A62.4,62.4 0 0 0 510,540 A52.0,52.0 0 0 0 590,565 A33.4,33.4 0 0 0 640,545" fill="none" stroke="#5a4830" stroke-width="9" stroke-linecap="round"/>
<path d="M45,420 Q250,560 630,615" fill="none" stroke="#5a4830" stroke-width="9" stroke-linecap="round"/>
<path d="M370,200 Q480,240 640,235" fill="none" stroke="#7a6a50" stroke-width="7" stroke-dasharray="6 22" stroke-linecap="round"/>
<path d="M255,215 Q300,350 400,430 Q500,500 630,500" fill="none" stroke="#7a6a50" stroke-width="7" stroke-dasharray="6 22" stroke-linecap="round"/>
<path d="M60,445 Q300,590 620,645" fill="none" stroke="#7a6a50" stroke-width="7" stroke-dasharray="6 22" stroke-linecap="round"/>
<path d="M150,520 Q380,640 600,665" fill="none" stroke="#7a6a50" stroke-width="7" stroke-dasharray="6 22" stroke-linecap="round"/>
</g>
<polygon points="296.7,528.8 297.6,534.5 303.0,536.6 297.9,539.2 297.5,544.9 293.5,540.9 287.9,542.3 290.5,537.2 287.4,532.4 293.1,533.3" fill="#d82020" stroke="#a01010" stroke-width="0.6" stroke-linejoin="round"/>
<circle cx="300" cy="522" r="6.2" fill="#8c8468" stroke="#7a6438" stroke-width="4.2"/>
<circle cx="300" cy="522" r="6.2" fill="none" stroke="#d8c890" stroke-width="1.9"/>
<circle cx="300.5" cy="522.5" r="2.6" fill="#6a6a5a"/>
<polygon points="470.6,544.7 479.2,543.6 486.2,547.2 488.6,555.3 487.0,562.8 510.0,575.9 506.6,581.9 524.5,594.1 520.6,601.9 539.4,613.9 519.4,628.8 527.2,642.8 501.9,655.6 494.1,650.6 478.4,642.8 469.8,633.4 470.6,623.3 463.6,614.7 471.4,598.3 465.2,592.8 467.5,580.3 470.6,568.6 464.7,560.8 465.6,551.4" fill="#fdfdfc" stroke="#c09060" stroke-width="1.5" stroke-linejoin="round"/>
<circle cx="475.3" cy="555.3" r="5.0" fill="#e01e1e" stroke="#d8a080" stroke-width="0.8"/>
<circle cx="479.2" cy="576.4" r="5.5" fill="#e01e1e" stroke="#d8a080" stroke-width="0.8"/>
<circle cx="491.7" cy="591.2" r="7.0" fill="#e01e1e" stroke="#d8a080" stroke-width="0.8"/>
<circle cx="479.2" cy="608.4" r="5.5" fill="#e01e1e" stroke="#d8a080" stroke-width="0.8"/>
<circle cx="498.0" cy="611.6" r="4.7" fill="#e01e1e" stroke="#d8a080" stroke-width="0.8"/>
<circle cx="519.1" cy="615.5" r="5.9" fill="#e01e1e" stroke="#d8a080" stroke-width="0.8"/>
<circle cx="481.6" cy="629.5" r="5.0" fill="#e01e1e" stroke="#d8a080" stroke-width="0.8"/>
<circle cx="503.4" cy="631.9" r="7.5" fill="#e01e1e" stroke="#d8a080" stroke-width="0.8"/>
<path d="M459,512 L466,532" stroke="#8a8a8a" stroke-width="2.6"/>
<circle cx="470" cy="538" r="4.5" fill="none" stroke="#a88a5a" stroke-width="2.6"/>
<polygon points="593.5,434.5 595.0,435.8 596.3,437.5 597.5,439.4 598.7,441.1 600.3,442.4 602.1,443.1 604.2,443.5 606.4,443.6 608.5,444.0 610.4,444.8 611.9,446.0 613.2,447.7 614.4,449.6 615.6,451.3 617.2,452.6 619.0,453.4 621.1,453.7 623.3,453.9 625.4,454.2 627.2,455.0 628.8,456.3 630.1,458.0 631.2,459.9 632.5,461.6 634.0,462.9 635.9,463.6 638.0,464.0 640.2,464.1 642.3,464.5 644.1,465.2 645.7,466.5 646.9,468.2 648.1,470.1 649.4,471.8 650.9,473.1 652.7,473.9 654.9,474.2 657.1,474.4 659.2,474.7 661.0,475.5 661.0,475.5 637.0,518.5 635.5,517.2 634.3,515.5 633.1,513.6 631.9,511.9 630.4,510.5 628.6,509.8 626.5,509.4 624.3,509.2 622.2,508.8 620.4,508.0 618.9,506.7 617.6,505.0 616.5,503.1 615.3,501.4 613.8,500.0 611.9,499.3 609.9,498.9 607.7,498.7 605.6,498.3 603.8,497.5 602.3,496.2 601.0,494.5 599.9,492.6 598.6,490.9 597.1,489.5 595.3,488.8 593.2,488.4 591.0,488.2 589.0,487.8 587.1,487.0 585.6,485.7 584.4,484.0 583.3,482.1 582.0,480.4 580.5,479.0 578.7,478.3 576.6,477.9 574.4,477.7 572.3,477.3 570.5,476.5 570.5,476.5" fill="#f7f2e2" stroke="#b39048" stroke-width="1.7" stroke-linejoin="round"/>
<polygon points="591.8,460.5 598.5,458.3 597.8,462.0 607.5,458.3 605.3,463.5 619.5,457.5 613.5,468.8 620.3,471.8 617.3,476.3 612.8,472.5 606.8,484.5 603.0,472.5 598.5,476.3 596.3,468.8 592.5,466.5" fill="#1c6630" stroke="#1c6630" stroke-width="0.8" stroke-linejoin="round"/>
<text transform="translate(623,503) rotate(-62)" font-family="Liberation Sans" font-size="9.8" font-weight="bold" fill="#c4946a" letter-spacing="0.2">MERRY</text>
<text transform="translate(635.5,501) rotate(-62)" font-family="Liberation Sans" font-size="9.8" font-weight="bold" fill="#cfb088" letter-spacing="0.2">X-MAS</text>
<circle cx="620.5" cy="488" r="2.2" fill="#d02020"/>
<circle cx="577" cy="449" r="5.8" fill="#8c8468" stroke="#7a6438" stroke-width="4.2"/>
<circle cx="577" cy="449" r="5.8" fill="none" stroke="#d8c890" stroke-width="1.9"/>
<circle cx="577.5" cy="449.5" r="2.4" fill="#6a6a5a"/>
<text x="430.7" y="104.5" font-family="Liberation Sans" font-size="21" letter-spacing="1.35" fill="#121212">5.2cm/2in</text>
<text x="37.2" y="299.3" font-family="Liberation Sans" font-size="21" letter-spacing="1.35" fill="#121212">1.5cm/0.6in</text>
<text x="36.7" y="323.3" font-family="Liberation Sans" font-size="21" letter-spacing="1.35" fill="#121212">2.6cm/1in</text>
<text x="336.7" y="385.5" font-family="Liberation Sans" font-size="21" letter-spacing="1.35" fill="#121212">18.3cm/7.2in</text>
<text x="643.2" y="366.3" font-family="Liberation Sans" font-size="21" letter-spacing="1.35" fill="#121212">1.7cm/0.7in</text>
<text x="642.7" y="390.3" font-family="Liberation Sans" font-size="21" letter-spacing="1.35" fill="#121212">2.6cm/1in</text>
<text x="82.9" y="537.5" font-family="Liberation Sans" font-size="21" letter-spacing="1.35" fill="#121212">1.7cm/0.7in</text>
<text x="82.7" y="561.3" font-family="Liberation Sans" font-size="21" letter-spacing="1.35" fill="#121212">2.6cm/1in</text>
<text x="608.2" y="563.8" font-family="Liberation Sans" font-size="21" letter-spacing="1.35" fill="#121212">1.2cm/0.5in</text>
<text x="608.2" y="587" font-family="Liberation Sans" font-size="21" letter-spacing="1.35" fill="#121212">2.1cm/0.8in</text>
<text x="352.4" y="671.3" font-family="Liberation Sans" font-size="21" letter-spacing="1.35" fill="#121212">1.6cm/0.6in</text>
<text x="352.2" y="694.5" font-family="Liberation Sans" font-size="21" letter-spacing="1.35" fill="#121212">2.6cm/1in</text>
<text x="96.60000000000001" y="726.4" font-family="Liberation Sans" font-size="21" letter-spacing="1.35" fill="#121212">weight:20.7g/0.73oz</text>
<line x1="479.5" y1="113" x2="431.0" y2="147.6" stroke="#111" stroke-width="2"/>
<polygon points="422,154 428.3,143.9 433.6,151.3" fill="#111"/>
<line x1="70" y1="335" x2="113.5" y2="360.0" stroke="#111" stroke-width="2"/>
<polygon points="123,365.5 111.2,363.9 115.7,356.1" fill="#111"/>
<line x1="733.75" y1="341.25" x2="684.2" y2="303.0" stroke="#111" stroke-width="2"/>
<polygon points="675.5,296.25 687.0,299.4 681.5,306.5" fill="#111"/>
<line x1="147" y1="567" x2="213.6" y2="595.7" stroke="#111" stroke-width="2"/>
<polygon points="223.75,600 211.9,599.8 215.4,591.5" fill="#111"/>
<line x1="696.25" y1="541.25" x2="665.7" y2="514.3" stroke="#111" stroke-width="2"/>
<polygon points="657.5,507 668.7,510.9 662.8,517.7" fill="#111"/>
<line x1="399.5" y1="648.75" x2="443.9" y2="613.8" stroke="#111" stroke-width="2"/>
<polygon points="452.5,607 446.6,617.3 441.1,610.3" fill="#111"/>
</svg>
</body></html>
